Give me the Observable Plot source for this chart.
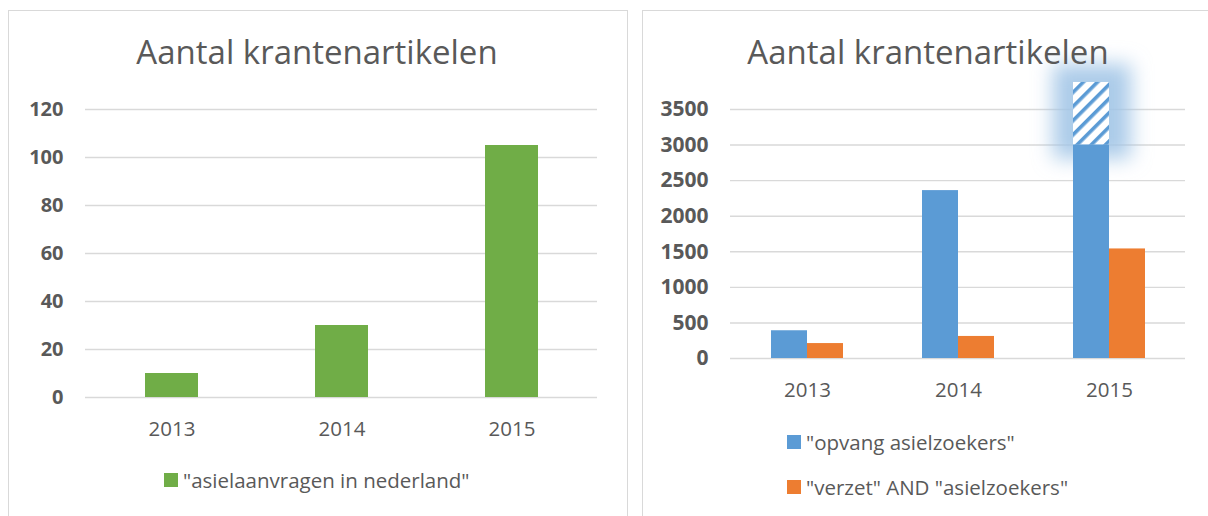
<!DOCTYPE html>
<html>
<head>
<meta charset="utf-8">
<script src="https://cdn.jsdelivr.net/npm/d3@7"></script>
<script src="https://cdn.jsdelivr.net/npm/@observablehq/plot@0.6"></script>
<style>
  html, body { margin: 0; padding: 0; background: #fff; }
  body { width: 1208px; height: 516px; position: relative; overflow: hidden; font-family: "Open Sans", sans-serif; color: #595959; }
  .panel { position: absolute; top: 10px; height: 540px; border: 1px solid #D9D9D9; box-sizing: border-box; background: #fff; }
  .title { position: absolute; font-weight: 400; font-size: 33px; color: #595959; white-space: nowrap; z-index: 3; transform: translateX(-50%); line-height: 1; }
  .plotbox { position: absolute; z-index: 2; }
  .leg { position: absolute; display: flex; align-items: center; font-size: 20.5px; white-space: nowrap; z-index: 3; line-height: 1; }
  .leg .sw { width: 14px; height: 14px; margin-right: 5px; flex: none; }
</style>
</head>
<body>
<div class="panel" style="left:8px; width:620px;"></div>
<div class="panel" style="left:642px; width:580px;"></div>
<div id="left" class="plotbox" style="left:8px; top:90px;"></div>
<div id="right" class="plotbox" style="left:642px; top:40px;"></div>
<div class="title" style="left:317px; top:35px;">Aantal krantenartikelen</div>
<div class="title" style="left:928px; top:35px;">Aantal krantenartikelen</div>
<div id="legL"></div>
<div id="legR"></div>
<script>
// ---- data ----
const years = ["2013", "2014", "2015"];
const asielaanvragen = [10, 30, 105];
const opvang = [390, 2360, 3880];
const verzet = [210, 310, 1540];
const leftTicks = [0, 20, 40, 60, 80, 100, 120];
const rightTicks = [0, 500, 1000, 1500, 2000, 2500, 3000, 3500];
const hatchFrom = 3000; // portion of "opvang" above this value is shown hatched
const seriesLeft = ['"asielaanvragen in nederland"'];
const seriesRight = ['"opvang asielzoekers"', '"verzet" AND "asielzoekers"'];

const GREEN = "#70AD47", BLUE = "#5B9BD5", ORANGE = "#ED7D31", GRID = "#D9D9D9", TEXT = "#595959";

// ---- left chart ----
const leftData = years.map((y, i) => ({year: y, value: asielaanvragen[i]}));
const left = Plot.plot({
  width: 610, height: 370,
  marginLeft: 77, marginRight: 21, marginTop: 19, marginBottom: 63,
  style: {background: "transparent", color: TEXT, fontFamily: "Open Sans, sans-serif"},
  x: {domain: years, paddingInner: 0.69, paddingOuter: 0.345, label: null},
  y: {domain: [0, 120], label: null},
  marks: [
    Plot.ruleY(leftTicks, {stroke: GRID, strokeWidth: 1.4}),
    Plot.barY(leftData, {x: "year", y: "value", fill: GREEN}),
    Plot.axisX({tickSize: 0, tickPadding: 24, fontSize: 20.5, label: null}),
    Plot.axisY({ticks: leftTicks, tickFormat: d => String(d), tickSize: 0, tickPadding: 22, fontSize: 20, fontWeight: "bold", label: null})
  ]
});
document.getElementById("left").appendChild(left);

// ---- right chart ----
const rightData = years.map((y, i) => ({year: y, opvang: opvang[i], verzet: verzet[i]}));
const hatchData = rightData.filter(d => d.opvang > hatchFrom);
const right = Plot.plot({
  width: 566, height: 410,
  marginLeft: 88, marginRight: 23, marginTop: 69, marginBottom: 92,
  style: {background: "transparent", color: TEXT, fontFamily: "Open Sans, sans-serif", overflow: "visible"},
  x: {domain: years, paddingInner: 0.525, paddingOuter: 0.2625, label: null},
  y: {domain: [0, 3500], label: null},
  marks: [
    Plot.ruleY(rightTicks, {stroke: GRID, strokeWidth: 1.4}),
    // soft glow behind the highlighted (hatched) part
    Plot.barY(hatchData, {x: "year", y1: hatchFrom, y2: "opvang", fill: "#A2C5E7", fillOpacity: 0.9,
      insetLeft: -20, insetRight: 36 - 22, insetTop: -18, insetBottom: -14}),
    Plot.barY(hatchData, {x: "year", y1: hatchFrom, y2: "opvang", fill: "url(#hatch)", insetRight: 36}),
    Plot.barY(rightData, {x: "year", y: d => Math.min(d.opvang, hatchFrom), fill: BLUE, insetRight: 36}),
    Plot.barY(rightData, {x: "year", y: "verzet", fill: ORANGE, insetLeft: 36}),
    Plot.axisX({tickSize: 0, tickPadding: 24, fontSize: 20.5, label: null}),
    Plot.axisY({ticks: rightTicks, tickFormat: d => String(d), tickSize: 0, tickPadding: 22, fontSize: 21, fontWeight: "bold", label: null})
  ]
});
// defs: hatch pattern + blur filter
const ns = "http://www.w3.org/2000/svg";
const defs = document.createElementNS(ns, "defs");
defs.innerHTML = `
  <pattern id="hatch" patternUnits="userSpaceOnUse" width="10" height="10" patternTransform="rotate(45)">
    <rect width="10" height="10" fill="#fff"/>
    <rect width="3.6" height="10" fill="${BLUE}"/>
  </pattern>
  <filter id="soft" filterUnits="userSpaceOnUse" x="0" y="0" width="566" height="410">
    <feGaussianBlur stdDeviation="10"/>
  </filter>`;
right.insertBefore(defs, right.firstChild);
right.querySelectorAll('[fill="#A2C5E7"]').forEach(g => g.setAttribute("filter", "url(#soft)"));
document.getElementById("right").appendChild(right);

// ---- legends ----
function legend(id, items, colors, lefts, tops) {
  const host = document.getElementById(id);
  items.forEach((t, i) => {
    const el = document.createElement("div");
    el.className = "leg";
    el.style.left = lefts[i] + "px";
    el.style.top = tops[i] + "px";
    const sw = document.createElement("span");
    sw.className = "sw";
    sw.style.background = colors[i];
    const tx = document.createElement("span");
    tx.textContent = t;
    el.appendChild(sw); el.appendChild(tx);
    host.appendChild(el);
  });
}
legend("legL", seriesLeft, [GREEN], [164], [470]);
legend("legR", seriesRight, [BLUE, ORANGE], [787, 787], [432, 477]);
</script>
</body>
</html>
